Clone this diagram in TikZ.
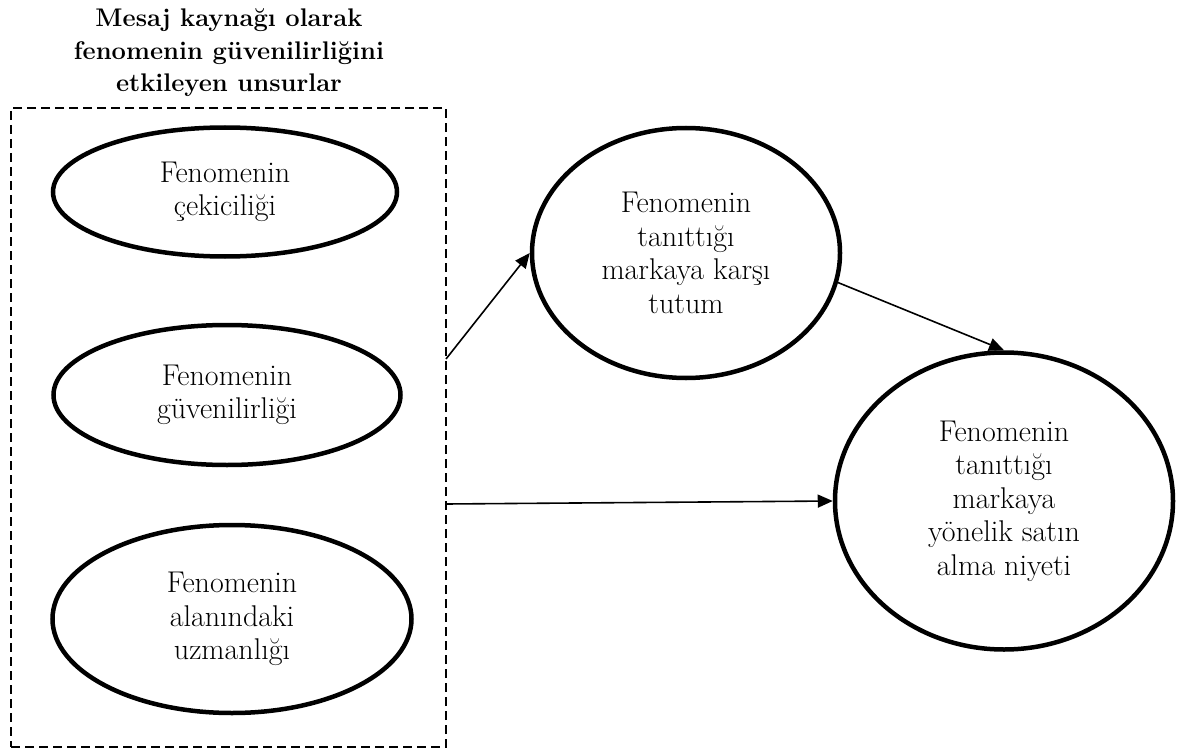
\documentclass[tikz,border=0pt]{standalone}
\usepackage{fontspec}
\usetikzlibrary{shapes.geometric,arrows.meta}
\begin{document}
\begin{tikzpicture}[x=1pt,y=-1pt,
  oval/.style={ellipse,draw,line width=4.5pt,inner sep=0pt,align=center,
    font=\fontsize{30}{33.5}\selectfont},
  frame/.style={draw,line width=1.8pt,dash pattern=on 9pt off 5pt,inner sep=0pt},
  conn/.style={line width=1.6pt,-{Triangle[length=15pt,width=13pt]}},
  titletext/.style={align=center,font=\bfseries\fontsize{25.5}{32.5}\selectfont,inner sep=0pt}]
\useasboundingbox (0,0) rectangle (1178,749);
\node[titletext] (title) at (229,53) {Mesaj kaynağı olarak\\fenomenin güvenilirliğini\\etkileyen unsurlar};
\node[frame,minimum width=435pt,minimum height=639pt] (box) at (228.5,427.5) {};
\node[oval,minimum width=344pt,minimum height=129pt] (e1) at (225,192) {Fenomenin\\çekiciliği};
\node[oval,minimum width=347pt,minimum height=140pt] (e2) at (227,395) {Fenomenin\\güvenilirliği};
\node[oval,minimum width=359pt,minimum height=188pt] (e3) at (232,619) {Fenomenin\\alanındaki\\uzmanlığı};
\node[oval,minimum width=308pt,minimum height=250pt] (c1) at (686,253) {Fenomenin\\tanıttığı\\markaya karşı\\tutum};
\node[oval,minimum width=338pt,minimum height=297pt] (c2) at (1004,501) {Fenomenin\\tanıttığı\\markaya\\yönelik satın\\alma niyeti};
\coordinate (s1) at (446,359);
\coordinate (s2) at (446,504);
\draw[conn] (s1) -- (c1.west);
\draw[conn] (c1.-11) -- (c2.north);
\draw[conn] (s2) -- (c2.west);
\end{tikzpicture}
\end{document}
